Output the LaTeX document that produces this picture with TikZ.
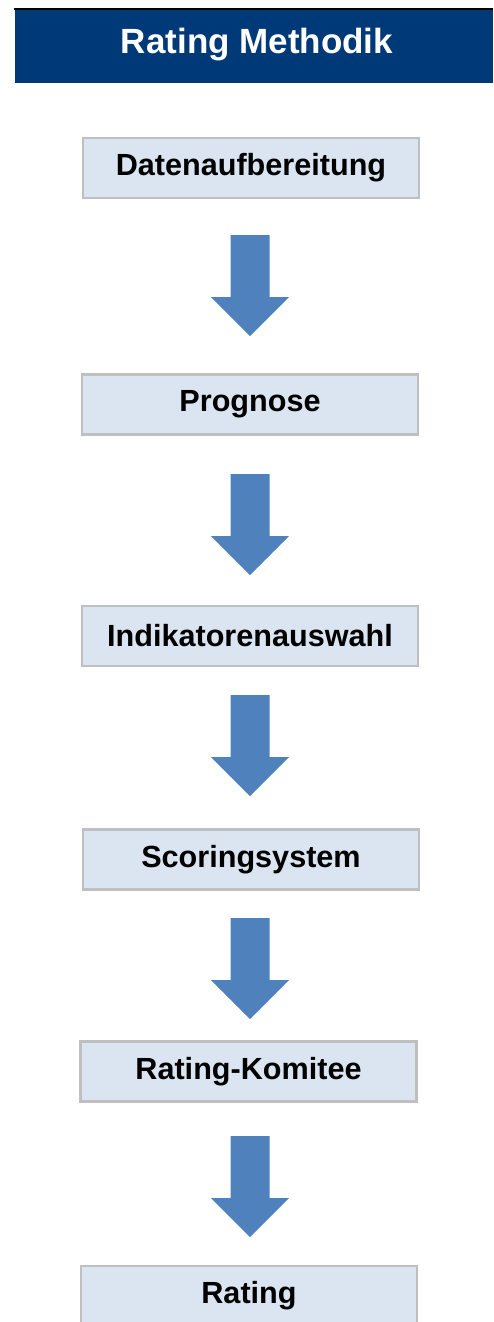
\documentclass[tikz,border=0pt]{standalone}
\usepackage{fontspec}
\setmainfont{Liberation Sans}
\usepackage{tikz}

\definecolor{kopfblau}{RGB}{0,57,120}
\definecolor{boxfill}{RGB}{219,229,241}
\definecolor{boxrand}{RGB}{191,191,191}
\definecolor{pfeilblau}{RGB}{79,129,189}

\tikzset{
	schritt/.style={rectangle,draw=boxrand,line width=2.5pt,fill=boxfill,
		minimum width=336pt,minimum height=60pt,inner sep=0pt,
		font=\fontsize{30.6}{36}\selectfont\bfseries},
	blockpfeil/.style={fill=pfeilblau}
}

\begin{document}
\begin{tikzpicture}[x=1pt,y=-1pt]
	\useasboundingbox (0,0) rectangle (493,1322);
	% Kopfzeile
	\fill[kopfblau] (15,10) rectangle (493,83);
	\fill[black] (14,8) rectangle (493,10.5);
	\node[text=white,font=\fontsize{35}{42}\selectfont\bfseries] (titel) at (257,45) {Rating Methodik};

	% Schritte
	\node[schritt] (datenauf) at (251,168) {Datenaufbereitung};
	\node[schritt] (prognose) at (250,404.5) {Prognose};
	\node[schritt] (indikator) at (250,636) {Indikatorenauswahl};
	\node[schritt] (scoring) at (251,859.5) {Scoringsystem};
	\node[schritt] (komitee) at (248.5,1071.5) {Rating-Komitee};
	\node[schritt] (rating) at (249,1296) {Rating};

	% Blockpfeile
	\foreach \t in {235,474,695,918,1136}
		\fill[blockpfeil] (230.5,\t) -- (269.5,\t) -- (269.5,\t+62) -- (289,\t+62)
			-- (250,\t+101) -- (211,\t+62) -- (230.5,\t+62) -- cycle;
\end{tikzpicture}
\end{document}
